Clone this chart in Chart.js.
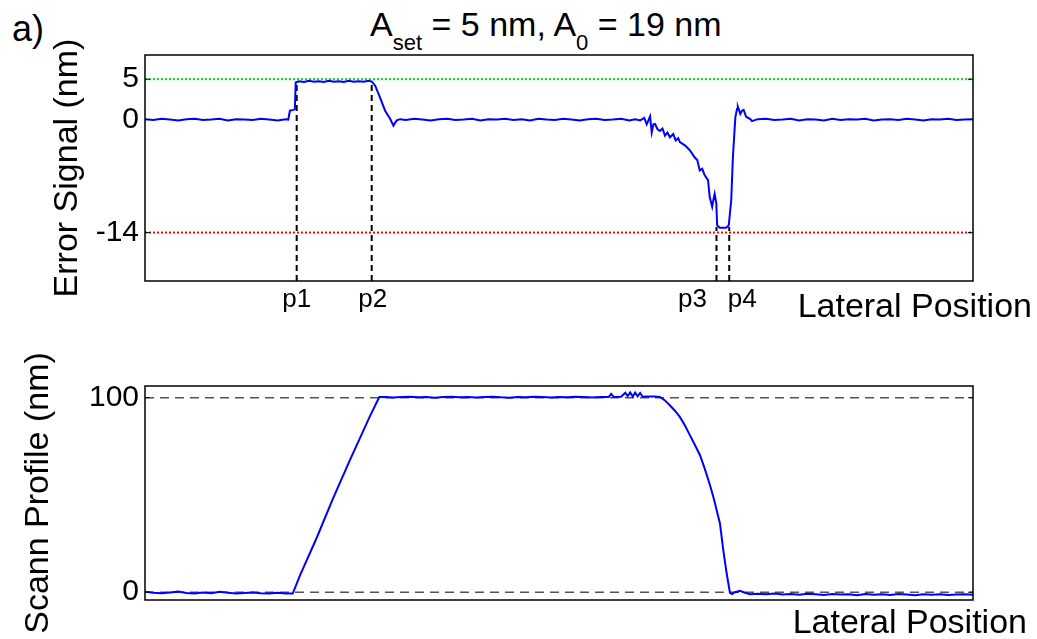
<!DOCTYPE html>
<html>
<head>
<meta charset="utf-8">
<script src="https://cdn.jsdelivr.net/npm/chart.js@4.4.1/dist/chart.umd.min.js"></script>
<style>
  body { margin: 0; background: #fff; }
  #wrap { position: relative; width: 1037px; height: 639px; font-family: "Liberation Sans", Arial, sans-serif; color: #000; }
  canvas { position: absolute; left: 0; }
  .txt { position: absolute; white-space: nowrap; }
  .sub { position: relative; top: 14px; font-size: 22px; }
</style>
</head>
<body>
<div id="wrap">
  <div class="txt" style="left:12px; top:11px; font-size:36px; line-height:36px;">a)</div>
  <div class="txt" style="left:370px; top:7px; font-size:34px; line-height:34px;">A<span class="sub">set</span> = 5 nm, A<span class="sub">0</span> = 19 nm</div>
  <canvas id="errChart" width="1037" height="330" style="top:0"></canvas>
  <canvas id="profChart" width="1037" height="309" style="top:330px"></canvas>
  <div class="txt" style="right:5px; top:288px; font-size:34px; line-height:34px;">Lateral Position</div>
  <div class="txt" style="right:10px; top:604px; font-size:34px; line-height:34px;">Lateral Position</div>
</div>
<script>
"use strict";

// error signal (nm) vs lateral position (arbitrary units, 0..100)
const errX = [0, 1, 2, 3, 4, 5, 6, 7, 8, 9, 10, 11, 12, 13, 14, 15, 16, 17, 17.3, 17.5, 17.9, 18.1,
  18.2, 18.6, 19.2, 19.8, 20.4, 21, 21.6, 22.2, 22.8, 23.4, 24, 24.6, 25.2, 25.8, 26.4, 27, 27.4,
  27.8, 28.4, 29, 29.6, 30, 30.4, 30.8, 31.5, 32.5, 33.5, 34.5, 35.5, 36.5, 37.5, 38.5, 39.5, 40.5,
  41.5, 42.5, 43.5, 44.5, 45.5, 46.5, 47.5, 48.5, 49.5, 50.5, 51.5, 52.5, 53.5, 54.5, 55.5, 56.5,
  57.5, 58.5, 59.2, 59.8, 60.3, 60.6, 61.0, 61.2, 61.4, 61.6, 61.9, 62.2, 62.5, 62.8, 63.1, 63.4,
  63.8, 64.1, 64.4, 64.6, 65.2, 65.8, 66.4, 66.7, 67.0, 67.3, 67.6, 68.0, 68.2, 68.5, 68.6, 68.8,
  69.0, 69.1, 69.4, 70.2, 70.5, 70.8, 71.0, 71.3, 71.5, 71.6, 71.9, 72.1, 72.3, 72.6, 73.1, 73.3,
  74, 75, 76, 77, 78, 79, 80, 81, 82, 83, 84, 85, 86, 87, 88, 89, 90, 91, 92, 93, 94, 95, 96, 97,
  98, 99, 100];
const errY = [0.05, -0.05, 0.1, 0, -0.1, 0.05, 0.1, -0.05, 0, 0.1, -0.1, 0.05, 0, -0.05, 0.1, 0, -0.1, 0.05, 0, 1.1, 1.2, 1.3,
  4.6, 4.75, 4.65, 4.8, 4.7, 4.75, 4.65, 4.8, 4.7, 4.75, 4.65, 4.8, 4.7, 4.75, 4.7, 4.8, 4.7,
  4.2, 2.7, 1.1, 0.1, -0.75, -0.1, 0.05, -0.05, 0.1, 0, -0.1, 0.05, 0.1, -0.05, 0, 0.1, -0.1,
  0.05, 0, 0.1, -0.05, 0.05, -0.1, 0.1, 0, -0.05, 0.1, 0, -0.1, 0.05, 0.1, -0.05, 0,
  0.1, -0.1, 0.05, -0.1, 0.2, -0.6, 0.4, -1.6, -0.6, -0.55, -1.2, -1.4, -1.1, -2.0, -1.6, -2.2,
  -1.8, -2.6, -2.3, -2.8, -3.2, -3.8, -4.7, -5.0, -6.3, -6.1, -6.9, -7.5, -9.6, -10.8, -10.2, -9.2,
  -10.4, -13.1, -13.4, -13.4, -13.1, -10, -4.7, 0.3, 1.3, 1.6, 0.7, 1.1, 1.2, 0.35, 0.07, -0.2,
  0.05, 0.1, -0.05, 0, 0.1, -0.1, 0.05, 0, -0.1, 0.1, -0.05, 0.05, 0, 0.1, -0.1, 0, 0.05, -0.05, 0.1, 0, -0.1, 0.05, 0, 0.1,
  -0.05, 0, 0.05];
const errTicks = [-14, 0, 5];
const errMin = -20;
const errMax = 8;
const setLevel = 5;
const floorLevel = -14;

// marker positions p1..p4 and where their dashed lines meet the curve
const pNames = ["p1", "p2", "p3", "p4"];
const pPos = [18.32, 27.38, 69.02, 70.56];
const pTop = [4.6, 4.7, -13.3, -13.3];

// scan profile (nm) vs lateral position
const profX = [0, 1, 2, 3, 4, 5, 6, 7, 8, 9, 10, 11, 12, 13, 14, 15, 16, 17, 17.84,
  18.72, 20.74, 22.74, 24.76, 27.17, 28.3, 29, 30, 31, 32, 33, 34, 35, 36, 37, 38, 39, 40, 41,
  42, 43, 44, 45, 46, 47, 48, 49, 50, 51, 52, 53, 54, 55, 56, 56.3, 56.6, 57.5, 58.0, 58.3, 58.6,
  58.9, 59.2, 59.5, 59.8, 60.1, 60.5, 61.5, 62.2, 62.8, 63.41, 64.0, 64.61, 65.2, 65.82, 66.4, 67.03,
  67.6, 68.24, 68.7, 69.05, 69.44, 69.84, 70.25, 70.65, 70.89, 71.26, 71.86, 72.46, 73.07, 74, 75,
  76, 77, 78, 79, 80, 81, 82, 83, 84, 85, 86, 87, 88, 89, 90, 91, 92, 93, 94, 95, 96, 97, 98, 99, 100];
const profY = [0.2, -0.3, -0.5, -0.2, 0.3, -0.4, -0.6, -0.2, -0.5, 0.2, -0.3, -0.6, -0.4, -0.1, -0.5, -0.7, -0.3, -0.6, -0.7,
  8.7, 28, 48.5, 68, 90.5, 100.3, 100.4, 100.1, 100.3, 100.5, 100.2, 100.4, 100.0, 100.3, 100.5, 100.2, 100.4, 100.1, 100.3,
  100.5, 100.2, 100.0, 100.4, 100.2, 100.5, 100.3, 100.1, 100.4, 100.2, 100.5, 100.3, 100.1, 100.4, 100.3, 102.0, 100.4, 100.5, 102.5, 100.8, 102.7,
  100.6, 102.6, 100.7, 102.4, 100.5, 100.6, 100.6, 100.4, 98.6, 96, 93.3, 90, 85.8, 80.6, 75.8, 70.4,
  63.5, 55, 48, 42, 35.3, 21.6, 9.6, -0.3, -1, 0, 0.7, -0.3, -1, -0.8, -1.1,
  -0.7, -1.2, -0.9, -1.3, -0.8, -1.1, -1.4, -0.9, -1.2, -1.0, -1.5, -0.9, -1.3, -1.1, -1.4, -0.9, -1.2, -1.5, -1.0, -1.3, -1.1, -1.4, -1.2, -1.0, -1.3];
const profTicks = [0, 100];
const profRefs = [0, 100];
const profMin = -4;
const profMax = 106;

Chart.defaults.font.family = '"Liberation Sans", Arial, sans-serif';
Chart.defaults.color = "#000";

function pts(xs, ys) {
  return xs.map(function (x, i) {
    return { x: x, y: ys[i] };
  });
}

// black box round the plot area plus little inward tick marks
const framePlugin = {
  id: "frame",
  afterDatasetsDraw(chart) {
    const ctx = chart.ctx;
    const a = chart.chartArea;
    const ys = chart.scales.y;
    ctx.save();
    ctx.strokeStyle = "#000";
    ctx.lineWidth = 1.5;
    ctx.strokeRect(a.left, a.top, a.right - a.left, a.bottom - a.top);
    ctx.lineWidth = 1;
    for (let t of ys.ticks) {
      let py = ys.getPixelForValue(t.value);
      ctx.beginPath();
      ctx.moveTo(a.left, py);
      ctx.lineTo(a.left + 5, py);
      ctx.moveTo(a.right, py);
      ctx.lineTo(a.right - 5, py);
      ctx.stroke();
    }
    ctx.restore();
  },
};

// p1..p4 names under the axis
const pLabelShift = [0, 1, -24, 13];
const pLabelPlugin = {
  id: "plabels",
  afterDraw(chart) {
    const ctx = chart.ctx;
    const xs = chart.scales.x;
    ctx.save();
    ctx.font = '26px "Liberation Sans", Arial, sans-serif';
    ctx.fillStyle = "#000";
    ctx.textAlign = "center";
    ctx.textBaseline = "alphabetic";
    for (let i = 0; i < pNames.length; i++) {
      let px = xs.getPixelForValue(pPos[i]) + pLabelShift[i];
      ctx.fillText(pNames[i], px, chart.chartArea.bottom + 26);
    }
    ctx.restore();
  },
};

function hLine(y, color, dash, width) {
  return {
    data: [{ x: 0, y: y }, { x: 100, y: y }],
    borderColor: color,
    borderDash: dash,
    borderWidth: width,
    pointRadius: 0,
  };
}

function baseOptions(yMin, yMax, yTicks, yTitle, titlePad, topPad, xHeight) {
  return {
    responsive: false,
    animation: false,
    devicePixelRatio: 1,
    layout: { padding: { top: topPad, right: 64, left: 0, bottom: 0 } },
    plugins: { legend: { display: false }, tooltip: { enabled: false } },
    scales: {
      x: {
        type: "linear",
        min: 0,
        max: 100,
        ticks: { display: false },
        grid: { display: false, drawTicks: false },
        border: { display: false },
        afterFit: function (scale) {
          scale.height = xHeight;
        },
      },
      y: {
        type: "linear",
        min: yMin,
        max: yMax,
        afterBuildTicks: function (scale) {
          scale.ticks = yTicks.map(function (v) {
            return { value: v };
          });
        },
        ticks: { font: { size: 30 }, padding: 6, color: "#000" },
        grid: { display: false, drawTicks: false },
        border: { display: false },
        title: {
          display: true,
          text: yTitle,
          font: { size: 34 },
          color: "#000",
          padding: { top: titlePad, bottom: 0 },
        },
        afterFit: function (scale) {
          scale.width = 145;
        },
      },
    },
  };
}

const errDatasets = [
  {
    data: pts(errX, errY),
    borderColor: "#0000ff",
    borderWidth: 2,
    pointRadius: 0,
  },
];
for (let i = 0; i < pPos.length; i++) {
  errDatasets.push({
    data: [{ x: pPos[i], y: errMin }, { x: pPos[i], y: pTop[i] }],
    borderColor: "#000",
    borderDash: [6, 4],
    borderWidth: 2,
    pointRadius: 0,
  });
}
errDatasets.push(hLine(setLevel, "#00e000", [2, 2], 2));
errDatasets.push(hLine(floorLevel, "#ff0000", [2, 2], 2));

new Chart(document.getElementById("errChart"), {
  type: "line",
  data: { datasets: errDatasets },
  options: baseOptions(errMin, errMax, errTicks, "Error Signal (nm)", 47, 55, 49),
  plugins: [framePlugin, pLabelPlugin],
});

const profDatasets = [
  {
    data: pts(profX, profY),
    borderColor: "#0000ff",
    borderWidth: 2,
    pointRadius: 0,
  },
];
for (let r of profRefs) {
  profDatasets.push(hLine(r, "#555", [9, 6], 1.5));
}

new Chart(document.getElementById("profChart"), {
  type: "line",
  data: { datasets: profDatasets },
  options: baseOptions(profMin, profMax, profTicks, "Scann Profile (nm)", 18, 56, 39),
  plugins: [framePlugin],
});
</script>
</body>
</html>
